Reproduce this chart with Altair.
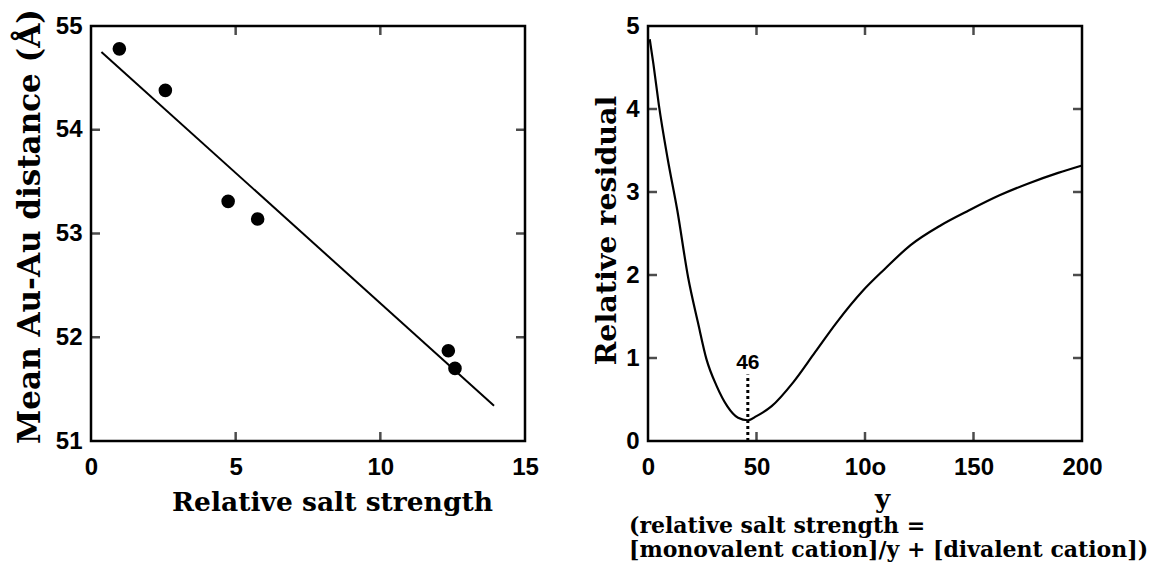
import altair as alt
import pandas as pd

# ---------------- data ----------------
# Left panel: measured points
SALT_X = [0.98, 2.57, 4.74, 5.76, 12.35, 12.58]
DIST_Y = [54.78, 54.38, 53.31, 53.14, 51.87, 51.70]
# Left panel: linear fit (end points)
FIT_X = [0.36, 13.93]
FIT_Y = [54.75, 51.34]

# Right panel: relative residual vs y
RES_X = [0.8, 2.5, 5, 9, 13.5, 18.5, 23, 27, 31.5, 36.5, 41.5, 46, 50, 57, 67,
         77, 87, 99, 109, 121, 135, 148, 162, 175, 189, 200]
RES_Y = [4.84, 4.54, 4.05, 3.41, 2.78, 1.97, 1.43, 0.98, 0.67, 0.42, 0.28, 0.25,
         0.30, 0.42, 0.71, 1.07, 1.43, 1.81, 2.07, 2.36, 2.60, 2.78, 2.96, 3.10,
         3.23, 3.32]
MIN_X = [46]
MIN_Y0 = [0]
MIN_Y1 = [0.80]
MIN_LABEL_Y = [0.87]
MIN_LABEL = ["46"]

# axis ticks / domains
L_XDOM = [0, 15]
L_YDOM = [51, 55]
L_XTICKS = [0, 5, 10, 15]
L_YTICKS = [51, 52, 53, 54, 55]
L_XINNER = [5, 10]
L_YINNER = [52, 53, 54]

R_XDOM = [0, 200]
R_YDOM = [0, 5]
R_XTICKS = [0, 50, 100, 150, 200]
R_YTICKS = [0, 1, 2, 3, 4, 5]
R_XINNER = [50, 100, 150]
R_YINNER = [1, 2, 3, 4]

W, H = 434, 415
TICK = 9
SERIF = "DejaVu Serif"
SANS = "Liberation Sans"


def encs(xdom, ydom, xticks, yticks, xtitle, ytitle, x_title_x, y_title_y, y_title_pad,
         x_title_pad, x_title_size, y_title_size, x_label_expr=None):
    xaxis_kw = dict(values=xticks, title=xtitle, labelPadding=14, titlePadding=x_title_pad,
                    titleX=x_title_x, labelFlush=False, titleFontSize=x_title_size)
    if x_label_expr:
        xaxis_kw["labelExpr"] = x_label_expr
    x = dict(scale=alt.Scale(domain=xdom, nice=False, zero=False), axis=alt.Axis(**xaxis_kw))
    y = dict(scale=alt.Scale(domain=ydom, nice=False, zero=False),
             axis=alt.Axis(values=yticks, title=ytitle, labelPadding=9, titleY=y_title_y,
                           titlePadding=y_title_pad, titleFontSize=y_title_size))
    return x, y


def ticks(xinner, yinner, xdom, ydom, X, Y):
    bottom = pd.DataFrame({"x": xinner, "y": [ydom[0]] * len(xinner)})
    top = pd.DataFrame({"x": xinner, "y": [ydom[1]] * len(xinner)})
    left = pd.DataFrame({"x": [xdom[0]] * len(yinner), "y": yinner})
    right = pd.DataFrame({"x": [xdom[1]] * len(yinner), "y": yinner})
    enc = dict(x=alt.X("x:Q", **X), y=alt.Y("y:Q", **Y))
    return [
        alt.Chart(bottom).mark_tick(orient="vertical", size=TICK, thickness=2.5, color="black",
                                    yOffset=-TICK / 2).encode(**enc),
        alt.Chart(top).mark_tick(orient="vertical", size=TICK, thickness=2.5, color="black",
                                 yOffset=TICK / 2).encode(**enc),
        alt.Chart(left).mark_tick(orient="horizontal", size=TICK, thickness=2.5, color="black",
                                  xOffset=TICK / 2).encode(**enc),
        alt.Chart(right).mark_tick(orient="horizontal", size=TICK, thickness=2.5, color="black",
                                   xOffset=-TICK / 2).encode(**enc),
    ]


# ---------------- left panel ----------------
LX, LY = encs(L_XDOM, L_YDOM, L_XTICKS, L_YTICKS, "Relative salt strength",
              "Mean Au-Au distance (Å)", 241, 200, 9, 10, 26.5, 31)
lpts = pd.DataFrame({"x": SALT_X, "y": DIST_Y})
lfit = pd.DataFrame({"x": FIT_X, "y": FIT_Y})

left = alt.layer(
    alt.Chart(lfit).mark_line(color="black", strokeWidth=2).encode(
        x=alt.X("x:Q", **LX), y=alt.Y("y:Q", **LY)),
    alt.Chart(lpts).mark_circle(size=185, color="black", opacity=1).encode(
        x=alt.X("x:Q", **LX), y=alt.Y("y:Q", **LY)),
    *ticks(L_XINNER, L_YINNER, L_XDOM, L_YDOM, LX, LY),
).properties(width=W, height=H)

# ---------------- right panel ----------------
RX, RY = encs(R_XDOM, R_YDOM, R_XTICKS, R_YTICKS, "y", "Relative residual", 234, 204, 4, 7,
              26, 28.5, x_label_expr="datum.value == 100 ? '10o' : datum.label")
rcurve = pd.DataFrame({"x": RES_X, "y": RES_Y})
rmin = pd.DataFrame({"x": MIN_X, "y": MIN_Y0, "y2": MIN_Y1})
rlab = pd.DataFrame({"x": MIN_X, "y": MIN_LABEL_Y, "t": MIN_LABEL})

right = alt.layer(
    alt.Chart(rcurve).mark_line(color="black", strokeWidth=2.2, interpolate="monotone").encode(
        x=alt.X("x:Q", **RX), y=alt.Y("y:Q", **RY)),
    alt.Chart(rmin).mark_rule(color="black", strokeWidth=3, strokeDash=[3, 3]).encode(
        x=alt.X("x:Q", **RX), y=alt.Y("y:Q", **RY), y2="y2:Q"),
    alt.Chart(rlab).mark_text(font=SANS, fontWeight="bold", fontSize=21, color="black",
                              baseline="alphabetic", align="center").encode(
        x=alt.X("x:Q", **RX), y=alt.Y("y:Q", **RY), text="t:N"),
    *ticks(R_XINNER, R_YINNER, R_XDOM, R_YDOM, RX, RY),
).properties(
    width=W, height=H,
    title=alt.TitleParams(
        text=["(relative salt strength =", "[monovalent cation]/y + [divalent cation])"],
        orient="bottom", anchor="start", frame="group", font=SERIF, fontWeight="bold",
        fontSize=22, color="black", dx=-19, offset=4, lineHeight=24),
)

chart = alt.hconcat(left, right, spacing=51).properties(
    padding={"left": 13, "top": 7, "right": 0, "bottom": 0},
    background="white",
).configure_view(
    stroke="black", strokeWidth=2.5
).configure_axis(
    grid=False, domain=False, ticks=False, tickSize=0,
    labelFont=SANS, labelFontWeight="bold", labelFontSize=24, labelColor="black",
    labelOverlap=False,
    titleFont=SERIF, titleFontWeight="bold", titleColor="black",
)

chart.save("out.html", embed_options={"renderer": "svg", "actions": False})
